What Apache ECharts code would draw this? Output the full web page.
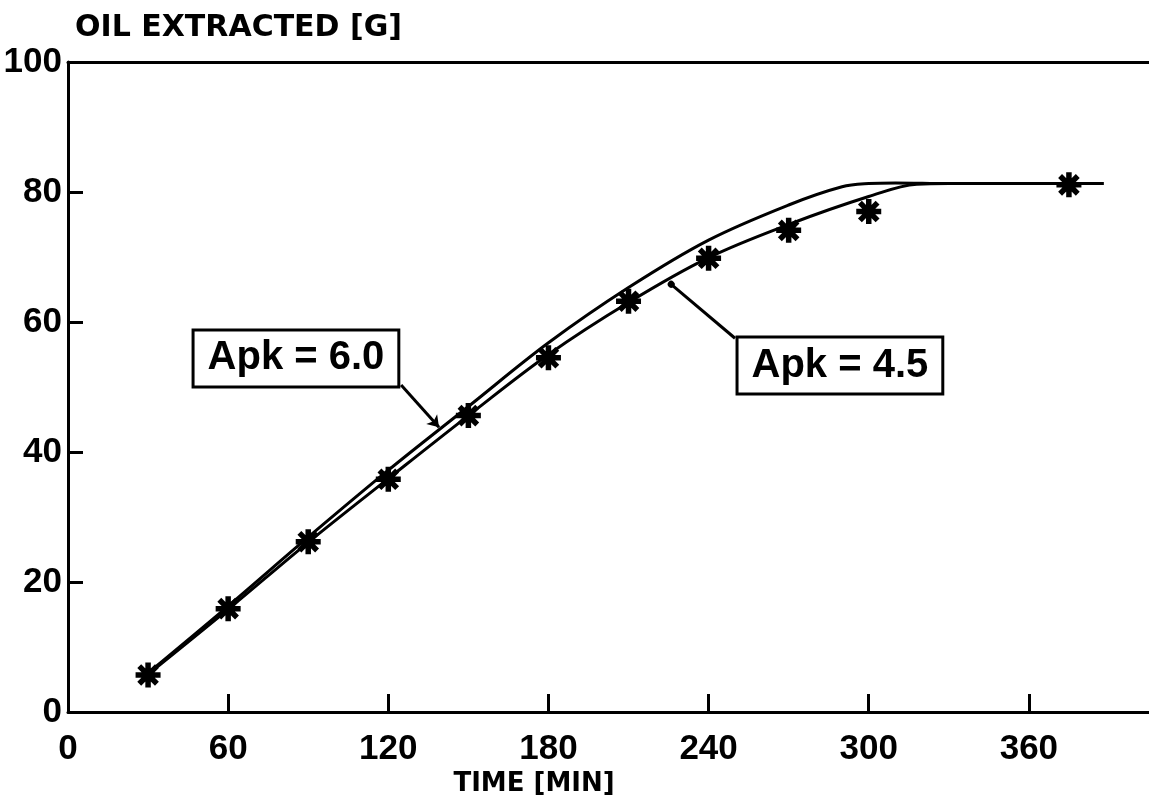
<!DOCTYPE html>
<html>
<head>
<meta charset="utf-8">
<script src="https://cdn.jsdelivr.net/npm/echarts@6/dist/echarts.min.js"></script>
<style>
html,body{margin:0;padding:0;background:#fff;}
#chart{width:1149px;height:802px;}
</style>
</head>
<body>
<div id="chart"></div>
<script>
// ---- data ----
const starTimes  = [30, 60, 90, 120, 150, 180, 210, 240, 270, 300, 375];
const starValues = [5.7, 15.9, 26.2, 35.8, 45.6, 54.5, 63.2, 69.8, 74.1, 77.0, 81.1];

const apk60Times  = [30, 60, 90, 120, 150, 180, 210, 240, 270, 290, 300, 310, 330, 388];
const apk60Values = [6.0, 16.3, 26.9, 37.2, 47.0, 56.8, 65.3, 72.6, 78.0, 80.8, 81.3, 81.4, 81.3, 81.3];

const apk45Times  = [30, 60, 90, 120, 150, 180, 210, 240, 270, 300, 318, 330, 388];
const apk45Values = [5.8, 15.8, 26.1, 35.9, 45.6, 55.0, 63.0, 69.9, 75.0, 79.3, 81.2, 81.3, 81.3];

const xTickValues  = [60, 120, 180, 240, 300, 360];
const xLabelValues = [0, 60, 120, 180, 240, 300, 360];
const yTickValues  = [20, 40, 60, 80];

const apk60Label = 'Apk = 6.0';
const apk45Label = 'Apk = 4.5';
const apk60Box   = [85.4, 54.4];
const apk60Leader = [[124.8, 50.3], [139, 43.8]];
const apk45Box   = [289.2, 53.3];
const apk45Leader = [[249.9, 57.5], [226, 65.8]];

const yTitle = 'OIL EXTRACTED [G]';
const xTitle = 'TIME [MIN]';

// ---- build ----
const zip = (a, b) => a.map((v, i) => [v, b[i]]);

const starPath = 'path://M-10,-2.2L10,-2.2L10,2.2L-10,2.2Z' +
  'M-2.2,-10L2.2,-10L2.2,10L-2.2,10Z' +
  'M-8.63,-5.52L-5.52,-8.63L8.63,5.52L5.52,8.63Z' +
  'M-5.52,8.63L-8.63,5.52L5.52,-8.63L8.63,-5.52Z' +
  'M-4.5,-4.5L4.5,-4.5L4.5,4.5L-4.5,4.5Z';

const black = '#000';
const tickFont = {color: black, fontFamily: 'Liberation Sans', fontWeight: 'bold', fontSize: 35};
const boxLabel = {
  show: true, position: 'inside', color: black,
  fontFamily: 'Liberation Sans', fontWeight: 'bold', fontSize: 40, lineHeight: 48,
  backgroundColor: '#fff', borderColor: black, borderWidth: 3,
  padding: [4, 13, 2, 13]
};
const yTickLength = 5.6; // in minutes along the x scale (~15 px)

const chart = echarts.init(document.getElementById('chart'), null, {renderer: 'canvas'});
chart.setOption({
  animation: false,
  backgroundColor: '#fff',
  grid: {left: 68, right: 0, top: 62, bottom: 90},
  xAxis: [{
    type: 'value', min: 0, max: 405, interval: 60,
    axisLine: {show: true, lineStyle: {color: black, width: 3}},
    axisTick: {show: true, inside: true, length: 18, customValues: xTickValues,
               lineStyle: {color: black, width: 3}},
    axisLabel: Object.assign({margin: 20, customValues: xLabelValues}, tickFont),
    splitLine: {show: false}
  }, {
    type: 'value', min: 0, max: 405, position: 'top',
    axisLine: {show: true, onZero: false, lineStyle: {color: black, width: 3}},
    axisTick: {show: false}, axisLabel: {show: false}, splitLine: {show: false}
  }],
  yAxis: {
    type: 'value', min: 0, max: 100, interval: 20,
    axisLine: {show: true, lineStyle: {color: black, width: 3}},
    axisTick: {show: true, inside: true, length: 15, lineStyle: {color: black, width: 3}},
    axisLabel: Object.assign({margin: 6}, tickFont),
    splitLine: {show: false}
  },
  graphic: [
    {type: 'text', x: 75, y: 28, silent: true,
     style: {text: yTitle, fill: black, font: 'bold 30px "DejaVu Sans"', verticalAlign: 'middle', align: 'left'}},
    {type: 'text', x: 534, y: 784, silent: true,
     style: {text: xTitle, fill: black, font: 'bold 26px "DejaVu Sans"', verticalAlign: 'middle', align: 'center'}}
  ],
  series: [{
    name: apk60Label, type: 'line', data: zip(apk60Times, apk60Values),
    smooth: 0.35, showSymbol: false, silent: true,
    lineStyle: {color: black, width: 3},
    markLine: {
      silent: true, symbol: ['none', 'arrow'], symbolSize: 11,
      label: {show: false},
      lineStyle: {color: black, width: 3, type: 'solid'},
      data: [[{coord: apk60Leader[0]}, {coord: apk60Leader[1]}]]
    },
    markPoint: {
      silent: true, symbol: 'rect', symbolSize: 1, itemStyle: {color: 'rgba(0,0,0,0)'},
      label: Object.assign({formatter: apk60Label}, boxLabel),
      data: [{coord: apk60Box}]
    }
  }, {
    name: apk45Label, type: 'line', data: zip(apk45Times, apk45Values),
    smooth: 0.35, showSymbol: false, silent: true,
    lineStyle: {color: black, width: 3},
    markLine: {
      silent: true, symbol: ['none', 'circle'], symbolSize: 7,
      label: {show: false},
      lineStyle: {color: black, width: 3, type: 'solid'},
      data: [[{coord: apk45Leader[0]}, {coord: apk45Leader[1]}]]
    },
    markPoint: {
      silent: true, symbol: 'rect', symbolSize: 1, itemStyle: {color: 'rgba(0,0,0,0)'},
      label: Object.assign({formatter: apk45Label}, boxLabel),
      data: [{coord: apk45Box}]
    }
  }, {
    name: 'Measured', type: 'scatter', data: zip(starTimes, starValues),
    symbol: starPath, symbolSize: 25, z: 5, silent: true,
    itemStyle: {color: black, opacity: 1},
    markLine: {
      silent: true, symbol: ['none', 'none'],
      label: {show: false},
      lineStyle: {color: black, width: 3, type: 'solid'},
      data: yTickValues.map(v => [{coord: [0, v]}, {coord: [yTickLength, v]}])
    }
  }]
});
</script>
</body>
</html>
